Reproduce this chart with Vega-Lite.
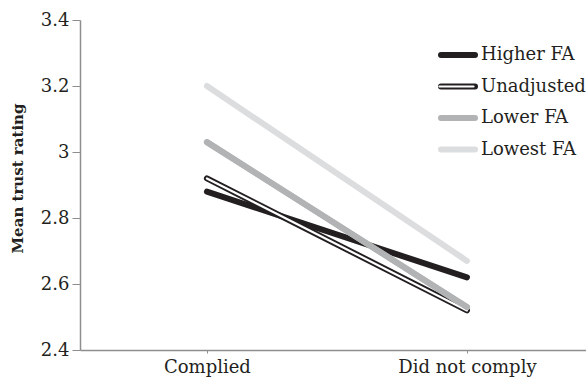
{
  "$schema": "https://vega.github.io/schema/vega-lite/v6.json",
  "width": 506,
  "height": 330,
  "autosize": {"type": "none"},
  "padding": {"left": 80, "top": 20, "right": 0, "bottom": 39},
  "background": "white",
  "config": {
    "view": {"stroke": null},
    "font": "DejaVu Serif",
    "axis": {
      "grid": false,
      "domainColor": "#8e8e8e",
      "domainWidth": 1.5,
      "tickColor": "#8e8e8e",
      "tickWidth": 1,
      "labelFont": "DejaVu Serif",
      "labelFontSize": 18,
      "labelColor": "#231f20"
    },
    "legend": {
      "labelFont": "DejaVu Serif",
      "labelFontSize": 18,
      "labelColor": "#231f20"
    }
  },
  "data": {
    "values": [
      {"compliance": "Complied", "series": "Higher FA", "rating": 2.88},
      {"compliance": "Did not comply", "series": "Higher FA", "rating": 2.62},
      {"compliance": "Complied", "series": "Unadjusted", "rating": 2.92},
      {"compliance": "Did not comply", "series": "Unadjusted", "rating": 2.52},
      {"compliance": "Complied", "series": "Lower FA", "rating": 3.03},
      {"compliance": "Did not comply", "series": "Lower FA", "rating": 2.53},
      {"compliance": "Complied", "series": "Lowest FA", "rating": 3.2},
      {"compliance": "Did not comply", "series": "Lowest FA", "rating": 2.67}
    ]
  },
  "encoding": {
    "x": {
      "field": "compliance",
      "type": "ordinal",
      "sort": ["Complied", "Did not comply"],
      "scale": {"type": "point", "padding": 0.473, "align": 0.516},
      "axis": {"title": null, "labelAngle": 0, "tickSize": 3, "labelPadding": 5}
    },
    "y": {
      "field": "rating",
      "type": "quantitative",
      "scale": {"domain": [2.4, 3.4], "zero": false, "nice": false},
      "axis": {
        "values": [2.4, 2.6, 2.8, 3, 3.2, 3.4],
        "format": "~g",
        "tickSize": 8,
        "labelPadding": 3,
        "title": "Mean trust rating",
        "titleFont": "DejaVu Serif",
        "titleFontWeight": "bold",
        "titleFontSize": 15,
        "titleColor": "#231f20",
        "titleX": -55,
        "titleY": 158
      }
    }
  },
  "layer": [
    {
      "mark": {"type": "line", "strokeWidth": 6, "strokeCap": "round"},
      "encoding": {
        "color": {
          "field": "series",
          "type": "nominal",
          "scale": {
            "domain": ["Higher FA", "Unadjusted", "Lower FA", "Lowest FA"],
            "range": ["#231f20", "#231f20", "#b2b3b5", "#dcdddf"]
          },
          "legend": {
            "title": null,
            "orient": "none",
            "legendX": 358,
            "legendY": 25,
            "padding": 0,
            "symbolType": "stroke",
            "symbolStrokeWidth": 6,
            "symbolSize": 1156,
            "clipHeight": 20,
            "rowPadding": 11.5,
            "labelOffset": 3,
            "encode": {"symbols": {"update": {"strokeCap": {"value": "round"}}}}
          }
        }
      }
    },
    {
      "mark": {"type": "line", "strokeWidth": 2.2, "strokeCap": "round"},
      "encoding": {
        "stroke": {
          "field": "series",
          "type": "nominal",
          "sort": ["Higher FA", "Unadjusted", "Lower FA", "Lowest FA"],
          "scale": {"range": ["transparent", "#ffffff", "transparent", "transparent"]},
          "legend": {
            "title": null,
            "orient": "none",
            "legendX": 358,
            "legendY": 25,
            "padding": 0,
            "symbolType": "stroke",
            "symbolStrokeWidth": 2.2,
            "symbolSize": 1156,
            "clipHeight": 20,
            "rowPadding": 11.5,
            "labelOffset": 3,
            "labelExpr": "''",
            "encode": {"symbols": {"update": {"strokeCap": {"value": "round"}}}}
          }
        }
      }
    },
    {
      "transform": [{"filter": "datum.series === 'Lower FA'"}],
      "mark": {"type": "line", "strokeWidth": 6, "strokeCap": "round"},
      "encoding": {
        "color": {"field": "series", "type": "nominal"}
      }
    }
  ]
}
